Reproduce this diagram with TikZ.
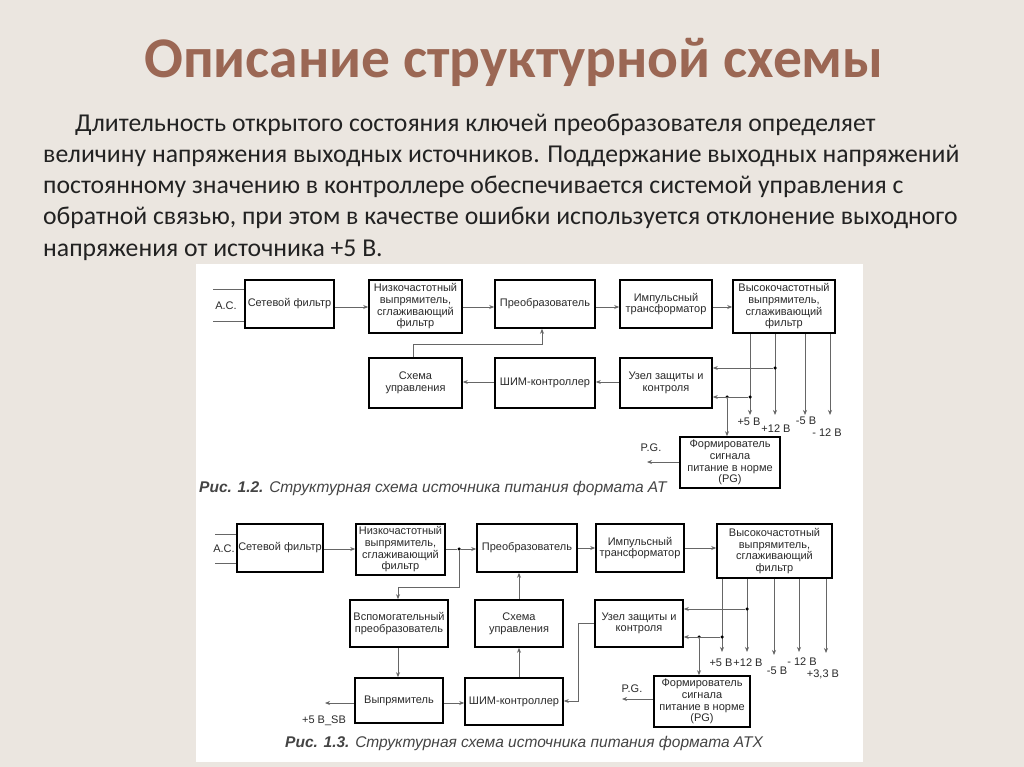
\documentclass[tikz,border=0pt]{standalone}
\usepackage{fontspec}
\setmainfont{Carlito}
\newfontfamily\arialf{Liberation Sans}
\usetikzlibrary{arrows.meta,calc}
\definecolor{bg}{HTML}{EBE6E0}
\definecolor{titlec}{HTML}{9B6754}
\definecolor{bodyc}{HTML}{222222}
\definecolor{wire}{HTML}{666666}
\definecolor{boxtext}{HTML}{2A2A2A}
\definecolor{capc}{HTML}{444444}
\begin{document}
\begin{tikzpicture}[x=1pt,y=-1pt,
  blk/.style={draw=black, line width=1.6pt, fill=white, inner sep=0pt, align=center,
    font=\arialf\fontsize{11}{11.7}\selectfont, text=boxtext},
  wirec/.style={draw=wire, line width=0.8pt},
  arr/.style={wirec, -{Stealth[length=5pt,width=4pt]}},
  jdot/.style={circle, fill=black, inner sep=0pt, minimum size=3.5pt},
  lbl/.style={font=\arialf\fontsize{11}{12}\selectfont, text=boxtext, inner sep=0pt},
  body/.style={font=\fontsize{25.7}{30}\selectfont, text=bodyc, inner sep=0pt, anchor=base west},
  capt/.style={font=\arialf\itshape\fontsize{15.5}{17}\selectfont, text=capc, inner sep=0pt, anchor=base west}
]
\useasboundingbox (0,0) rectangle (1024,767);
\fill[bg] (0,0) rectangle (1024,767);
\fill[white] (196,264) rectangle (863,762);

% title and text
\node[font=\bfseries\fontsize{57.5}{62}\selectfont, text=titlec, inner sep=0pt, anchor=base] (title) at (514,78) {Описание структурной схемы};
\node[body] (t1) at (75,132) {Длительность открытого состояния ключей преобразователя определяет};
\node[body] (t2) at (43,163) {величину напряжения выходных источников. Поддержание выходных напряжений};
\node[body] (t3) at (43,194) {постоянному значению в контроллере обеспечивается системой управления с};
\node[body] (t4) at (43,225) {обратной связью, при этом в качестве ошибки используется отклонение выходного};
\node[body] (t5) at (43,256) {напряжения от источника +5 В.};

% ===== Diagram 1 (AT) =====
\node[blk, minimum width=89pt, minimum height=48pt] (fil1) at (289.5,304) {Сетевой фильтр};
\node[blk, minimum width=93pt, minimum height=53pt] (lf1) at (415.5,306.5) {Низкочастотный\\выпрямитель,\\сглаживающий\\фильтр};
\node[blk, minimum width=100pt, minimum height=48pt] (conv1) at (545,304) {Преобразователь};
\node[blk, minimum width=92pt, minimum height=48pt] (tr1) at (666,304) {Импульсный\\трансформатор};
\node[blk, minimum width=102pt, minimum height=53pt] (hf1) at (784,306.5) {Высокочастотный\\выпрямитель,\\сглаживающий\\фильтр};
\node[blk, minimum width=93pt, minimum height=50pt] (ctl1) at (415.5,383) {Схема\\управления};
\node[blk, minimum width=100pt, minimum height=50pt] (pwm1) at (545,383) {ШИМ-контроллер};
\node[blk, minimum width=92pt, minimum height=50pt] (prot1) at (666,383) {Узел защиты и\\контроля};
\node[blk, minimum width=100pt, minimum height=51pt] (pg1) at (730,462.5) {Формирователь\\сигнала\\питание в норме\\(PG)};

\node[lbl] (ac1) at (226,306) {А.С.};
\coordinate (ac1a) at (213,289);
\coordinate (ac1b) at (213,321);
\draw[wirec] (ac1a) -- (ac1a -| fil1.west);
\draw[wirec] (ac1b) -- (ac1b -| fil1.west);

\draw[arr] (fil1.east |- 0,307) -- (lf1.west |- 0,307);
\draw[arr] (lf1.east |- 0,307) -- (conv1.west |- 0,307);
\draw[arr] (conv1.east |- 0,307) -- (tr1.west |- 0,307);
\draw[arr] (tr1.east |- 0,307) -- (hf1.west |- 0,307);
\draw[arr] (ctl1.north -| 413,0) -- (413,344) -| (conv1.south -| 542,0);
\draw[arr] (pwm1.west |- 0,382) -- (ctl1.east |- 0,382);
\draw[arr] (prot1.west |- 0,382) -- (pwm1.east |- 0,382);

\coordinate (o1a) at (750,415);
\coordinate (o1b) at (775,415);
\coordinate (o1c) at (805,415);
\coordinate (o1d) at (830,415);
\foreach \c in {o1a,o1b,o1c,o1d} \draw[arr] (hf1.south -| \c) -- (\c);
\node[jdot] (d1a) at (775,368) {};
\node[jdot] (d1b) at (750,397) {};
\node[jdot] (d1c) at (727,397) {};
\draw[arr] (d1a) -- (d1a -| prot1.east);
\draw[arr] (d1b) -- (d1b -| prot1.east);
\draw[arr] (d1c) -- (d1c |- pg1.north);
\coordinate (pgo1) at (647,462);
\draw[arr] (pg1.west |- pgo1) -- (pgo1);
\node[lbl] (pgl1) at (651,448) {P.G.};
\node[lbl] (v1a) at (749,422) {+5 В};
\node[lbl] (v1b) at (776,429) {+12 В};
\node[lbl] (v1c) at (806,421) {-5 В};
\node[lbl] (v1d) at (827,433) {- 12 В};

\node[capt] (cap1) at (199,492) {\bfseries Рис. 1.2. \mdseries Структурная схема источника питания формата AT};

% ===== Diagram 2 (ATX) =====
\node[blk, minimum width=86pt, minimum height=48pt] (fil2) at (280,548) {Сетевой фильтр};
\node[blk, minimum width=89pt, minimum height=51pt] (lf2) at (400.5,549.5) {Низкочастотный\\выпрямитель,\\сглаживающий\\фильтр};
\node[blk, minimum width=100pt, minimum height=48pt] (conv2) at (527,548) {Преобразователь};
\node[blk, minimum width=88pt, minimum height=48pt] (tr2) at (640,548) {Импульсный\\трансформатор};
\node[blk, minimum width=115pt, minimum height=54pt] (hf2) at (774.5,551) {Высокочастотный\\выпрямитель,\\сглаживающий\\фильтр};
\node[blk, minimum width=98pt, minimum height=47pt] (aux2) at (399,623.5) {Вспомогательный\\преобразователь};
\node[blk, minimum width=88pt, minimum height=47pt] (ctl2) at (519,623.5) {Схема\\управления};
\node[blk, minimum width=88pt, minimum height=47pt] (prot2) at (639,623.5) {Узел защиты и\\контроля};
\node[blk, minimum width=88pt, minimum height=45pt] (rect2) at (399,700.5) {Выпрямитель};
\node[blk, minimum width=98pt, minimum height=47pt] (pwm2) at (514,701.5) {ШИМ-контроллер};
\node[blk, minimum width=96pt, minimum height=51pt] (pg2) at (702,701.5) {Формирователь\\сигнала\\питание в норме\\(PG)};

\node[lbl] (ac2) at (224,549) {А.С.};
\coordinate (ac2a) at (215,534);
\coordinate (ac2b) at (215,563);
\draw[wirec] (ac2a) -- (ac2a -| fil2.west);
\draw[wirec] (ac2b) -- (ac2b -| fil2.west);

\node[jdot] (d2s) at (459,549) {};
\draw[arr] (fil2.east |- 0,549) -- (lf2.west |- 0,549);
\draw[wirec] (lf2.east |- d2s) -- (d2s);
\draw[arr] (d2s) -- (d2s -| conv2.west);
\draw[arr] (d2s) -- (459,587) -| (aux2.north -| 398,0);
\draw[arr] (aux2.south -| 398,0) -- (rect2.north -| 398,0);
\coordinate (sb2) at (325,703);
\draw[arr] (rect2.west |- sb2) -- (sb2);
\node[lbl] (sbl) at (324,721) {+5 В\_SB};
\draw[arr] (rect2.east |- 0,703) -- (pwm2.west |- 0,703);
\draw[arr] (pwm2.north -| 519,0) -- (ctl2.south -| 519,0);
\draw[arr] (ctl2.north -| 519,0) -- (conv2.south -| 519,0);
\draw[arr] (prot2.west |- 0,623) -- (578,623) |- (pwm2.east |- 0,701);
\draw[arr] (conv2.east |- 0,548) -- (tr2.west |- 0,548);
\draw[arr] (tr2.east |- 0,548) -- (hf2.west |- 0,548);

\coordinate (o2a) at (722,652);
\coordinate (o2b) at (747,652);
\coordinate (o2c) at (774,655);
\coordinate (o2d) at (799,652);
\coordinate (o2e) at (826,653);
\foreach \c in {o2a,o2b,o2c,o2d,o2e} \draw[arr] (hf2.south -| \c) -- (\c);
\node[jdot] (d2a) at (747,609) {};
\node[jdot] (d2b) at (722,637) {};
\node[jdot] (d2c) at (699,637) {};
\draw[arr] (d2a) -- (d2a -| prot2.east);
\draw[arr] (d2b) -- (d2b -| prot2.east);
\draw[arr] (d2c) -- (d2c |- pg2.north);
\coordinate (pgo2) at (622,699);
\draw[arr] (pg2.west |- pgo2) -- (pgo2);
\node[lbl] (pgl2) at (632,689) {P.G.};
\node[lbl] (v2a) at (721,663) {+5 В};
\node[lbl] (v2b) at (748,663) {+12 В};
\node[lbl] (v2c) at (777,671) {-5 В};
\node[lbl] (v2d) at (802,662) {- 12 В};
\node[lbl] (v2e) at (823,674) {+3,3 В};

\node[capt] (cap2) at (285,747) {\bfseries Рис. 1.3. \mdseries Структурная схема источника питания формата ATX};
\end{tikzpicture}
\end{document}
